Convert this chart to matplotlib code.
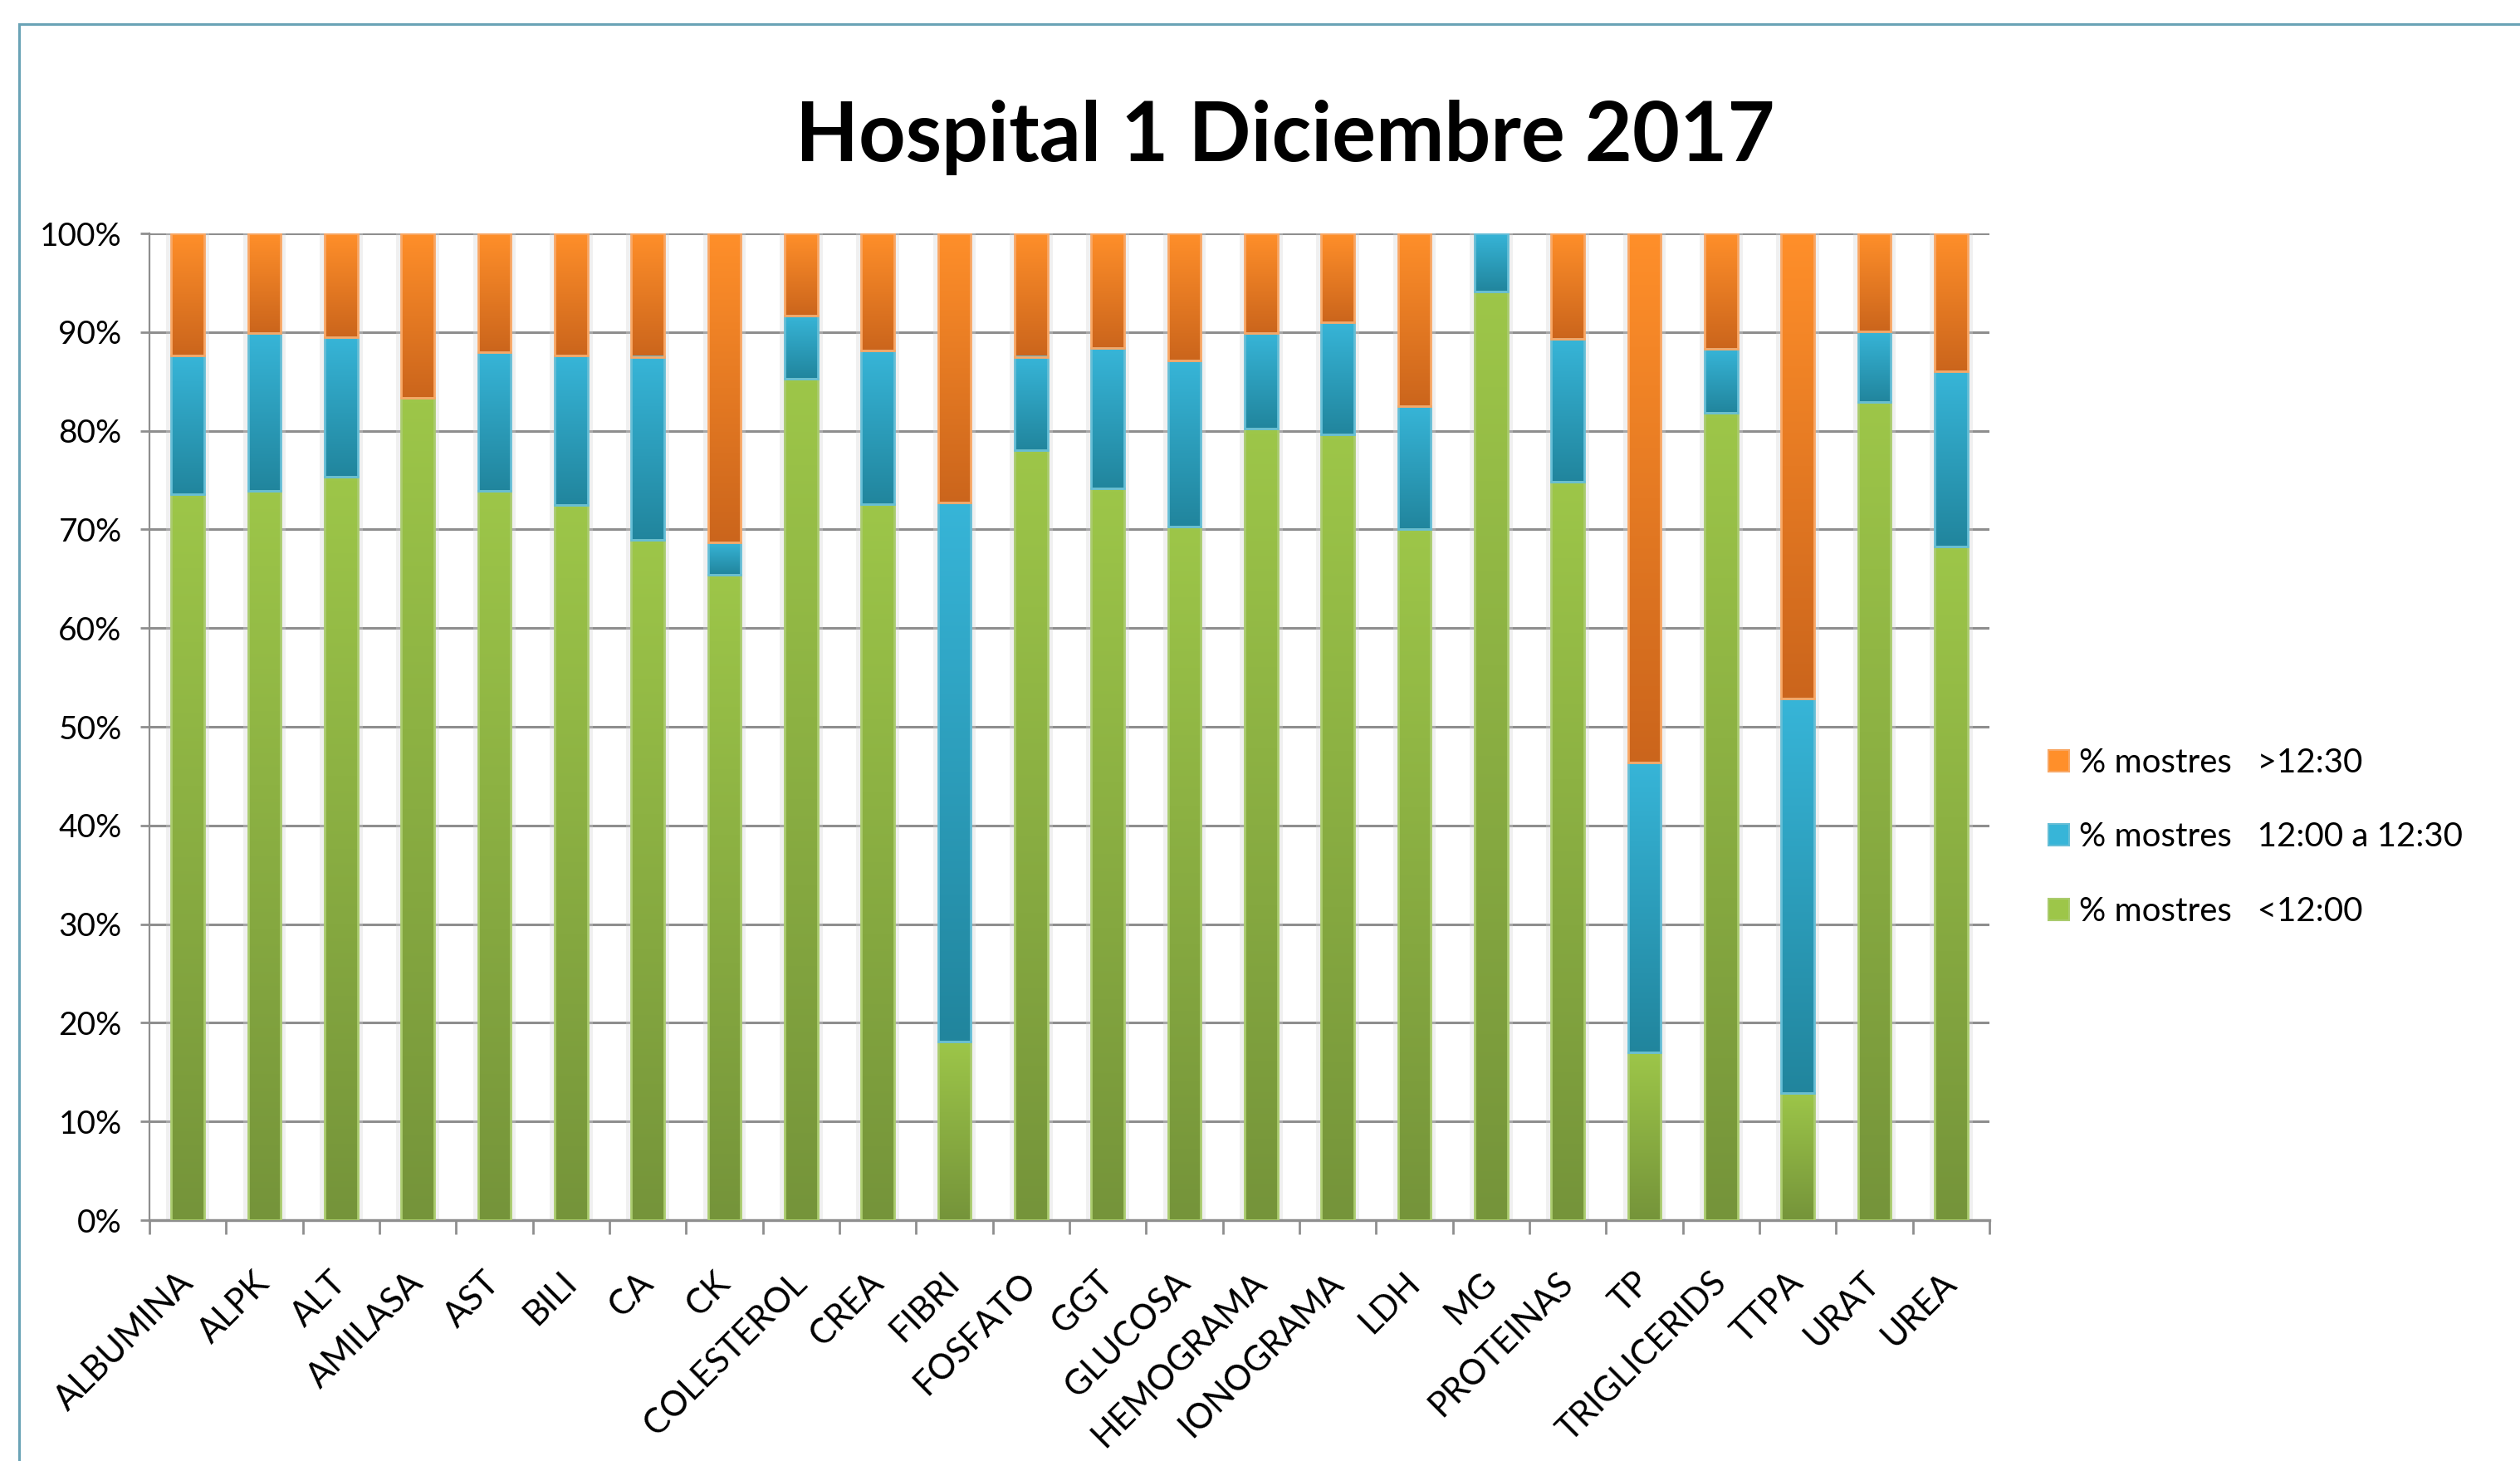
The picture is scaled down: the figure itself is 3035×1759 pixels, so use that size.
import numpy as np
import matplotlib
matplotlib.use('Agg')
import matplotlib.pyplot as plt
from matplotlib.colors import LinearSegmentedColormap
from matplotlib.patches import Patch, Rectangle

categories = ['ALBUMINA', 'ALPK', 'ALT', 'AMILASA', 'AST', 'BILI', 'CA', 'CK',
              'COLESTEROL', 'CREA', 'FIBRI', 'FOSFATO', 'GGT', 'GLUCOSA',
              'HEMOGRAMA', 'IONOGRAMA', 'LDH', 'MG', 'PROTEINAS', 'TP',
              'TRIGLICERIDS', 'TTPA', 'URAT', 'UREA']
pct_before_1200 = [73.6, 73.9, 75.3, 83.3, 73.9, 72.5, 68.9, 65.4, 85.3, 72.6,
                   18.1, 78.0, 74.2, 70.3, 80.2, 79.6, 70.0, 94.1, 74.8, 17.0,
                   81.8, 12.9, 82.9, 68.3]
pct_1200_1230 = [14.0, 16.0, 14.2, 0.0, 14.1, 15.1, 18.6, 3.3, 6.4, 15.5,
                 54.6, 9.5, 14.2, 16.8, 9.7, 11.4, 12.5, 5.9, 14.5, 29.4,
                 6.5, 40.0, 7.2, 17.7]
pct_after_1230 = [12.4, 10.1, 10.5, 16.7, 12.0, 12.4, 12.5, 31.3, 8.3, 11.9,
                  27.3, 12.5, 11.6, 12.9, 10.1, 9.0, 17.5, 0.0, 10.7, 53.6,
                  11.7, 47.1, 9.9, 14.0]
y_ticks = [0, 10, 20, 30, 40, 50, 60, 70, 80, 90, 100]
y_tick_labels = [f'{t}%' for t in y_ticks]
legend_labels = ['% mostres   <12:00', '% mostres   12:00 a 12:30', '% mostres   >12:30']
title = 'Hospital 1 Diciembre 2017'

plt.rcParams['font.family'] = ['Lato', 'DejaVu Sans']

W, H = 3035, 1759
fig = plt.figure(figsize=(W / 100, H / 100), dpi=100)
fig.patch.set_facecolor('white')
ax = fig.add_axes([180 / W, 1 - 1469 / H, (2396 - 180) / W, (1469 - 281) / H])

x = np.arange(len(categories))
width = 0.43

# soft shadow behind bars
ax.bar(x, 100, width + 0.13, color='#D5D5D5', alpha=0.35, zorder=1.5, linewidth=0)

series = [
    (pct_before_1200, '#9DC649', '#75943A', '#AACB6E'),
    (pct_1200_1230, '#37B5D8', '#21859D', '#66BED6'),
    (pct_after_1230, '#FF8F2A', '#CB651C', '#F8A765'),
]
grad = np.linspace(0, 1, 256).reshape(-1, 1)
handles = []
bottom = np.zeros(len(categories))
for (vals, top_c, bot_c, edge_c), lab in zip(series, legend_labels):
    vals = np.array(vals, dtype=float)
    bars = ax.bar(x, vals, width, bottom=bottom, facecolor='none',
                  edgecolor=edge_c, linewidth=2, zorder=4)
    cmap = LinearSegmentedColormap.from_list('g', [bot_c, top_c])
    for p in bars:
        h = p.get_height()
        if h <= 0:
            p.set_visible(False)
            continue
        x0, y0, w = p.get_x(), p.get_y(), p.get_width()
        ax.imshow(grad, cmap=cmap, extent=[x0, x0 + w, y0, y0 + h],
                  origin='lower', aspect='auto', zorder=3,
                  interpolation='bilinear')
    handles.append(Patch(facecolor=top_c, edgecolor=edge_c, linewidth=1.5, label=lab))
    bottom += vals

ax.set_xlim(-0.5, len(categories) - 0.5)
ax.set_ylim(0, 100)
ax.set_aspect('auto')

ax.set_yticks(y_ticks)
ax.set_yticklabels(y_tick_labels)
ax.yaxis.grid(True, color='#8E8E8E', linewidth=2.2)
ax.set_axisbelow(True)

ax.set_xticks(x)
ax.set_xticklabels(categories, rotation=45, ha='right', va='center',
                   rotation_mode='anchor', fontsize=30)
ax.set_xticks(np.arange(-0.5, len(categories), 1.0), minor=True)
ax.tick_params(axis='x', which='major', length=0, pad=50)
ax.tick_params(axis='x', which='minor', length=12, width=2, color='#8E8E8E', direction='out')
ax.tick_params(axis='y', length=8, width=2, color='#8E8E8E', labelsize=28, pad=16)

for s in ['top', 'right']:
    ax.spines[s].set_visible(False)
for s in ['left', 'bottom']:
    ax.spines[s].set_color('#8E8E8E')
ax.spines['left'].set_linewidth(1.6)
ax.spines['bottom'].set_linewidth(2.4)

fig.text(1548 / W, 1 - 194 / H, title, ha='center', va='baseline',
         fontsize=71, fontweight='bold', color='black')

leg = fig.legend(handles=handles[::-1], loc='center left',
                 bbox_to_anchor=(2431 / W, 1 - 1008 / H), frameon=False,
                 fontsize=29, handlelength=0.62, handleheight=0.62,
                 handletextpad=0.3, labelspacing=1.3)

fig.add_artist(Rectangle((23 / W, -0.1), 1.2, 1 - 29 / H + 0.1,
                         transform=fig.transFigure, fill=False,
                         edgecolor='#6AA3B6', linewidth=2.2))

fig.savefig('out.png', dpi=100, facecolor='white')
